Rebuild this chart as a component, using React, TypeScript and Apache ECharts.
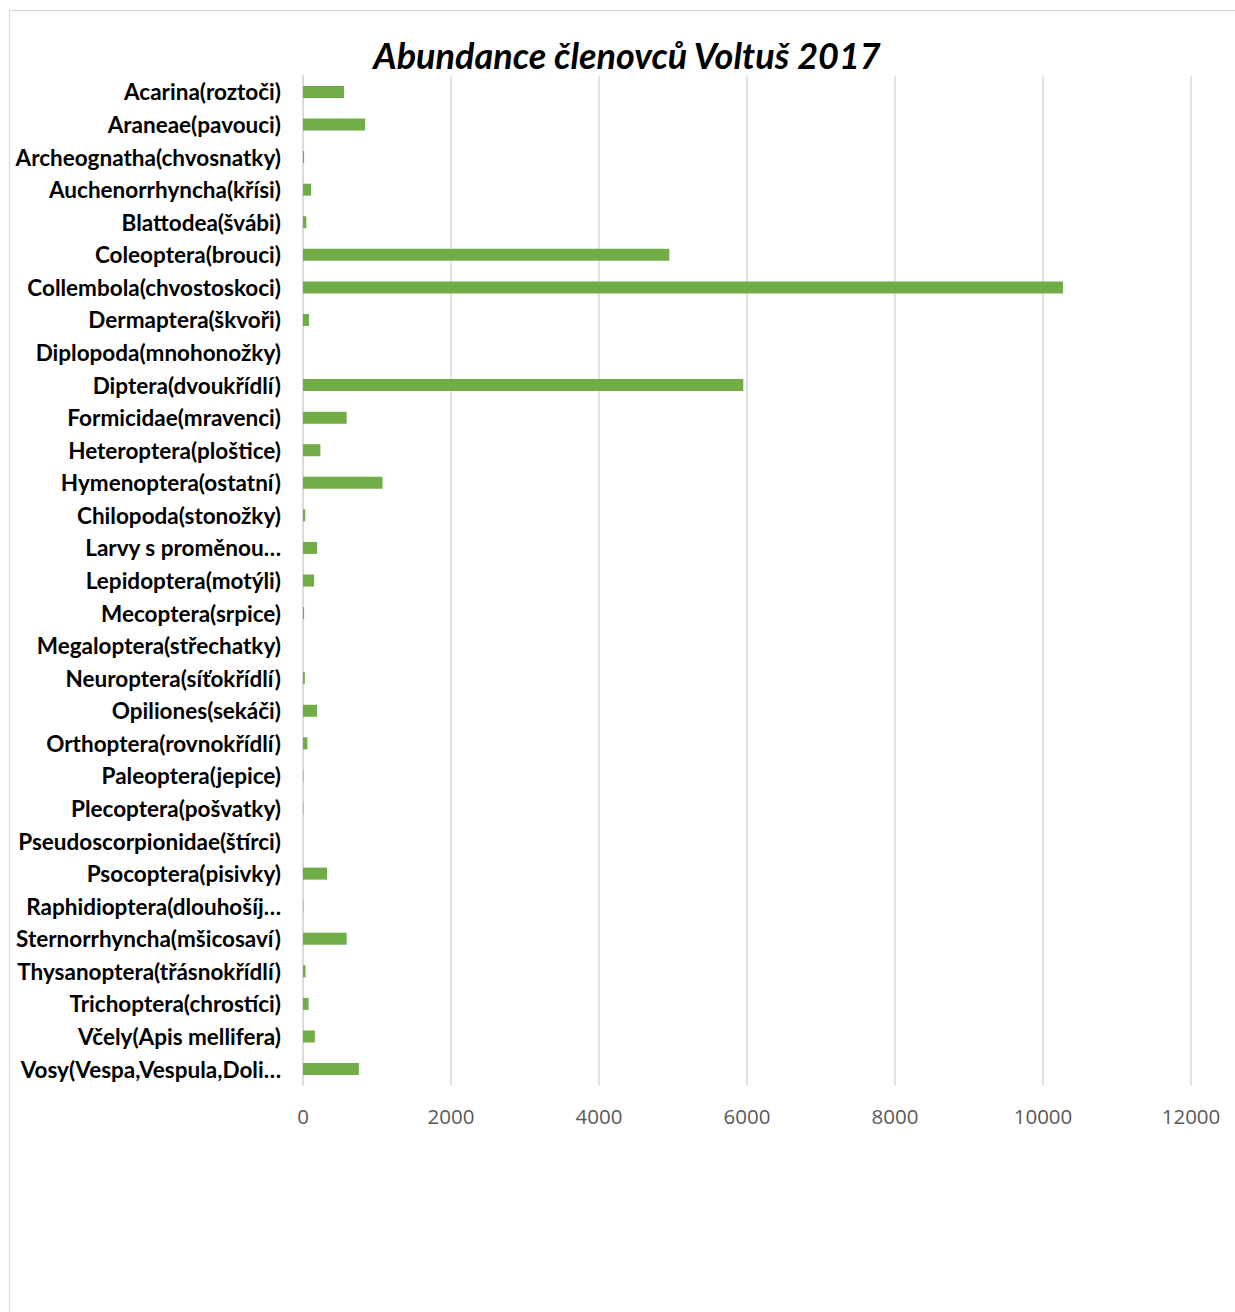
import React, { useEffect, useRef } from "react";
import * as echarts from "echarts";

const categories = [
  "Acarina(roztoči)",
  "Araneae(pavouci)",
  "Archeognatha(chvosnatky)",
  "Auchenorrhyncha(křísi)",
  "Blattodea(švábi)",
  "Coleoptera(brouci)",
  "Collembola(chvostoskoci)",
  "Dermaptera(škvoři)",
  "Diplopoda(mnohonožky)",
  "Diptera(dvoukřídlí)",
  "Formicidae(mravenci)",
  "Heteroptera(ploštice)",
  "Hymenoptera(ostatní)",
  "Chilopoda(stonožky)",
  "Larvy s proměnou…",
  "Lepidoptera(motýli)",
  "Mecoptera(srpice)",
  "Megaloptera(střechatky)",
  "Neuroptera(síťokřídlí)",
  "Opiliones(sekáči)",
  "Orthoptera(rovnokřídlí)",
  "Paleoptera(jepice)",
  "Plecoptera(pošvatky)",
  "Pseudoscorpionidae(štírci)",
  "Psocoptera(pisivky)",
  "Raphidioptera(dlouhošíj…",
  "Sternorrhyncha(mšicosaví)",
  "Thysanoptera(třásnokřídlí)",
  "Trichoptera(chrostíci)",
  "Včely(Apis mellifera)",
  "Vosy(Vespa,Vespula,Doli…",
];

const abundance = [
  555, 840, 15, 110, 45, 4950, 10270, 80, 0, 5950, 590, 235, 1075, 30, 190,
  150, 15, 0, 25, 190, 60, 5, 5, 0, 325, 5, 590, 35, 75, 160, 755,
];

const xTicks = { min: 0, max: 12000, interval: 2000 };
const chartTitle = "Abundance členovců Voltuš 2017";

export default function App() {
  const ref = useRef<HTMLDivElement>(null);
  useEffect(() => {
    if (!ref.current) return;
    const chart = echarts.init(ref.current, undefined, { renderer: "svg" });
    chart.setOption({
      animation: false,
      backgroundColor: "#ffffff",
      title: {
        text: chartTitle,
        left: 622,
        top: 32,
        textAlign: "center",
        textStyle: {
          fontFamily: "Lato",
          fontSize: 36,
          fontWeight: "bold",
          fontStyle: "italic",
          color: "#000000",
        },
      },
      graphic: [
        {
          type: "rect",
          shape: { x: 9.5, y: 10.5, width: 1260, height: 1340 },
          style: { fill: "none", stroke: "#d9d9d9", lineWidth: 1 },
          silent: true,
        },
      ],
      grid: { left: 303, right: 44, top: 75.7, bottom: 226.7, containLabel: false },
      xAxis: {
        type: "value",
        min: xTicks.min,
        max: xTicks.max,
        interval: xTicks.interval,
        axisLine: { show: false },
        axisTick: { show: false },
        splitLine: { show: true, lineStyle: { color: "#d9d9d9", width: 1.5 } },
        axisLabel: {
          color: "#595959",
          fontFamily: "Open Sans",
          fontSize: 20.5,
          margin: 20,
          formatter: (v: number) => String(v),
        },
      },
      yAxis: {
        type: "category",
        data: categories,
        inverse: true,
        axisLine: { show: true, lineStyle: { color: "#d9d9d9", width: 1.5 } },
        axisTick: { show: false },
        splitLine: { show: false },
        axisLabel: {
          color: "#000000",
          fontFamily: "Lato",
          fontWeight: "bold",
          fontSize: 22.5,
          margin: 22,
          interval: 0,
        },
      },
      series: [
        {
          type: "bar",
          data: abundance,
          barWidth: 12,
          itemStyle: { color: "#70ad47" },
        },
      ],
    });
    return () => chart.dispose();
  }, []);
  return (
    <div
      ref={ref}
      style={{ position: "absolute", left: 0, top: 0, width: 1235, height: 1312 }}
    />
  );
}
